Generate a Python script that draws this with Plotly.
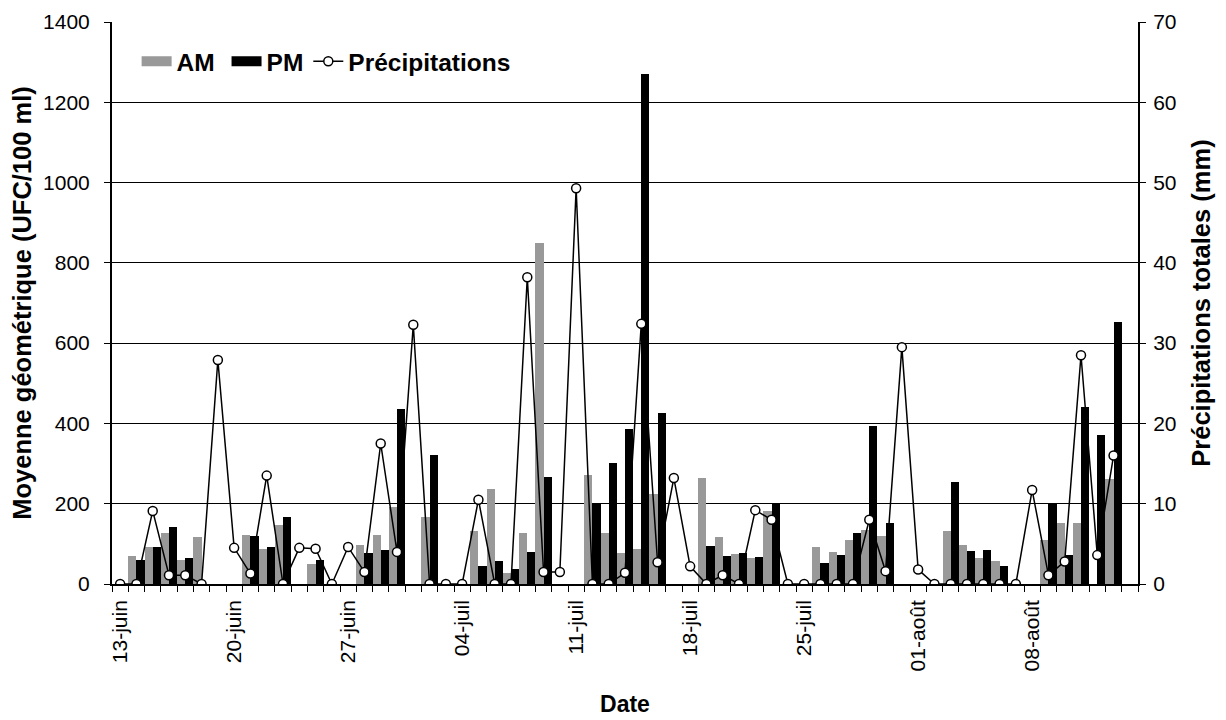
import pandas as pd
import plotly.graph_objects as go

# Categories: one per day, 13 June to 14 August
dates = pd.date_range("2009-06-13", "2009-08-14", freq="D")
tick_dates = ["2009-06-13", "2009-06-20", "2009-06-27", "2009-07-04", "2009-07-11",
              "2009-07-18", "2009-07-25", "2009-08-01", "2009-08-08"]
tick_labels = ["13-juin", "20-juin", "27-juin", "04-juil", "11-juil",
               "18-juil", "25-juil", "01-août", "08-août"]

N = None
am = [N, 69, 91, 128, 59, 116, N, N, 123, 86, 146, N, 51, N, N,
      98, 123, 193, N, 166, N, N, 131, 237, 28, 128, 850, N, N,
      271, 127, 78, 86, 224, N, N, 264, 118, 75, 66, 182, N, N,
      91, 80, 110, 135, 120, N, N, N, 133, 98, 66, 58, N, N,
      110, 153, 153, N, 262, N]
pm = [N, 59, 91, 143, 64, N, N, N, 120, 91, 166, N, 59, N, N,
      78, 85, 437, N, 322, N, N, 46, 58, 38, 80, 267, N, N,
      200, 302, 387, 1271, 426, N, N, 95, 70, 78, 68, 202, N, N,
      53, 73, 128, 394, 153, N, N, N, 255, 83, 85, 46, N, N,
      199, 72, 441, 372, 652, N]
precip = [0, 0, 9.1, 1.1, 1.1, 0, 27.9, 4.5, 1.3, 13.5, 0, 4.5, 4.4, 0, 4.6,
          1.5, 17.5, 4.0, 32.3, 0, 0, 0, 10.5, 0, 0, 38.2, 1.5, 1.5, 49.3,
          0, 0, 1.4, 32.4, 2.7, 13.2, 2.2, 0, 1.1, 0, 9.2, 8.0, 0, 0,
          0, 0, 0, 8.0, 1.6, 29.5, 1.8, 0, 0, 0, 0, 0, 0, 11.7,
          1.1, 2.8, 28.5, 3.6, 16.0, N]

FONT = "Liberation Sans, Arial, sans-serif"
AM_COLOR = "#999999"
PM_COLOR = "#000000"

fig = go.Figure()
fig.add_trace(go.Bar(x=dates, y=am, name="AM", showlegend=False,
                     marker=dict(color=AM_COLOR, line=dict(width=0))))
fig.add_trace(go.Bar(x=dates, y=pm, name="PM", showlegend=False,
                     marker=dict(color=PM_COLOR, line=dict(width=0))))
# legend entries drawn as wide rectangles, like the original legend keys
fig.add_trace(go.Scatter(x=[None], y=[None], name="AM\u00a0", mode="lines",
                         line=dict(color=AM_COLOR, width=15)))
fig.add_trace(go.Scatter(x=[None], y=[None], name="PM", mode="lines",
                         line=dict(color=PM_COLOR, width=15)))
fig.add_trace(go.Scatter(x=dates, y=precip, name="Précipitations", yaxis="y2",
                         mode="lines+markers",
                         line=dict(color="black", width=1.5),
                         marker=dict(symbol="circle", size=9, color="white",
                                     line=dict(color="black", width=1.5))))

fig.update_layout(
    width=1218, height=712,
    margin=dict(l=104, r=88, t=14, b=136, autoexpand=False),
    paper_bgcolor="white", plot_bgcolor="white",
    font=dict(family=FONT, color="black", size=18),
    barmode="group", bargap=0, bargroupgap=0,
    showlegend=True,
    legend=dict(orientation="h", x=0.024, y=0.93, xanchor="left", yanchor="middle",
                font=dict(family=FONT, size=24.5, weight="bold"),
                bgcolor="rgba(0,0,0,0)", itemwidth=30, tracegroupgap=0),
    xaxis=dict(
        range=["2009-06-12 12:00", "2009-08-14 12:00"],
        tickmode="array", tickvals=tick_dates, ticktext=tick_labels,
        tickangle=-90, ticks="", showgrid=False, zeroline=False,
        showline=True, linecolor="black", linewidth=1.5,
        tickfont=dict(size=21), ticklabelstandoff=6,
        minor=dict(ticks="outside", ticklen=6, tickcolor="black", tickwidth=1,
                   dtick=86400000, tick0="2009-06-12 12:00", showgrid=False),
        title=dict(text="Date", font=dict(size=23, weight="bold"), standoff=26),
    ),
    yaxis=dict(
        range=[0, 1400], dtick=200, tick0=0,
        showgrid=True, gridcolor="black", gridwidth=1,
        zeroline=False, showline=True, linecolor="black", linewidth=2,
        ticks="outside", ticklen=6, tickcolor="black", tickwidth=1,
        tickfont=dict(size=21), ticklabelstandoff=10,
        title=dict(text="Moyenne géométrique (UFC/100 ml)",
                   font=dict(size=25.5, weight="bold"), standoff=20),
    ),
    yaxis2=dict(
        range=[0, 70], dtick=10, tick0=0, overlaying="y", side="right",
        showgrid=False, zeroline=False, showline=True, linecolor="black", linewidth=2,
        ticks="outside", ticklen=6, tickcolor="black", tickwidth=1,
        tickfont=dict(size=21), ticklabelstandoff=3,
        title=dict(text="Précipitations totales (mm)",
                   font=dict(size=25.5, weight="bold"), standoff=17),
    ),
)

fig.write_html("out.html")
